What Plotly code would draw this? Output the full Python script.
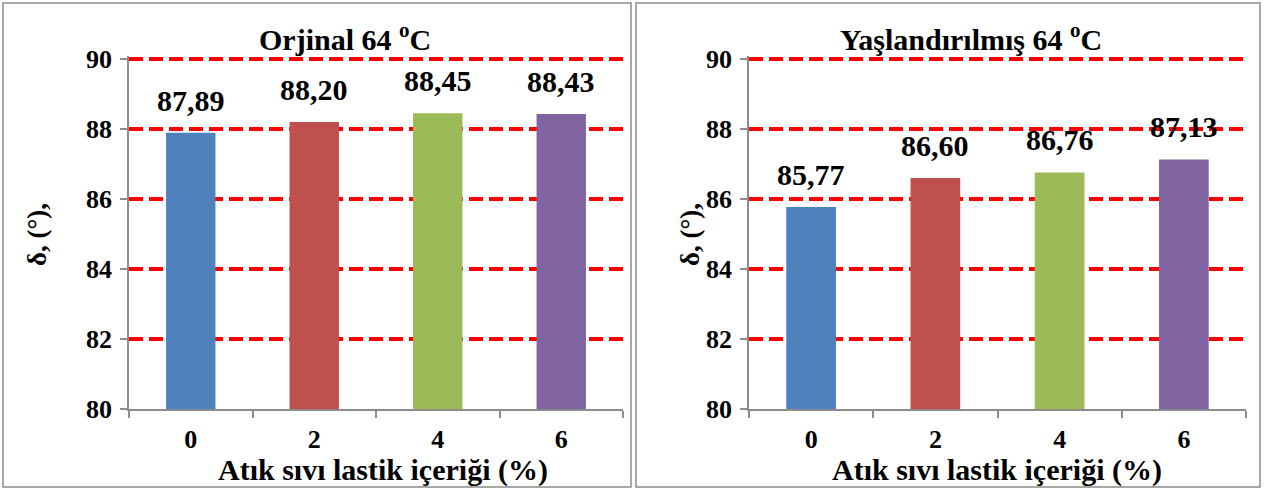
import plotly.graph_objects as go

categories = ["0", "2", "4", "6"]
orjinal_values = [87.89, 88.20, 88.45, 88.43]
yaslandirilmis_values = [85.77, 86.60, 86.76, 87.13]
bar_colors = ["#4F81BD", "#C0504D", "#9BBB59", "#8064A2"]
y_ticks = [80, 82, 84, 86, 88, 90]
titles = ["Orjinal 64 <sup>o</sup>C", "Yaşlandırılmış 64 <sup>o</sup>C"]
x_title = "Atık sıvı lastik içeriği (%)"
y_title = "δ, (°),"

W, H = 1264, 490
FONT = "Liberation Serif, Times New Roman, serif"

def px(x):
    return x / W

def py(y):
    return 1 - y / H

fig = go.Figure()

for i, vals in enumerate([orjinal_values, yaslandirilmis_values]):
    xa = "x" if i == 0 else "x2"
    ya = "y" if i == 0 else "y2"
    fig.add_trace(go.Bar(
        x=categories, y=vals, marker_color=bar_colors, marker_line_width=0,
        xaxis=xa, yaxis=ya, showlegend=False, hoverinfo="skip",
    ))
    for k, v in enumerate(vals):
        fig.add_annotation(
            x=k, y=v, xref=xa, yref=ya, text=f"{v:.2f}".replace(".", ","),
            showarrow=False, yanchor="bottom", yshift=14,
            font=dict(family=FONT, size=30, color="black", weight="bold"),
        )

axis_common = dict(
    showline=True, linecolor="#8c8c8c", linewidth=1.5, automargin=False,
    ticks="outside", tickcolor="#8c8c8c", ticklen=7, tickwidth=1.5,
    tickfont=dict(family=FONT, size=26, color="black", weight="bold"),
)
xaxis_common = dict(axis_common, type="category", tickson="boundaries",
                    range=[-0.5, 3.5], showgrid=False, fixedrange=True,
                    ticklabelstandoff=6)
# small headroom above 90 so the top gridline is drawn like the others
Y_TOP = 90.08
yaxis_common = dict(axis_common, range=[80, Y_TOP], tickvals=y_ticks,
                    showgrid=True, gridcolor="#FF0000", gridwidth=3.5,
                    griddash="14px,6px", zeroline=False, ticklen=7,
                    ticklabelstandoff=3, fixedrange=True)

unit = (409 - 59) / 10.0
ydom = [py(409), py(59 - (Y_TOP - 90) * unit)]
fig.update_layout(
    template="none",
    width=W, height=H,
    margin=dict(l=0, r=0, t=0, b=0, pad=0, autoexpand=False),
    paper_bgcolor="white", plot_bgcolor="white",
    bargap=0.6,
    xaxis=dict(xaxis_common, domain=[px(129), px(623)], anchor="y"),
    yaxis=dict(yaxis_common, domain=ydom, anchor="x"),
    xaxis2=dict(xaxis_common, domain=[px(749), px(1246)], anchor="y2"),
    yaxis2=dict(yaxis_common, domain=ydom, anchor="x2"),
)

# panel borders
for x0, x1 in [(3, 631), (636, 1260)]:
    fig.add_shape(type="rect", xref="paper", yref="paper",
                  x0=px(x0), x1=px(x1), y0=py(487), y1=py(3),
                  line=dict(color="#8c8c8c", width=1.5), layer="below")

# titles and axis titles
for j, (tx, xt, yt) in enumerate([(345, 383, 37), (971, 997, 690)]):
    fig.add_annotation(x=px(tx), y=py(37), xref="paper", yref="paper",
                       text="<b>" + titles[j] + "</b>",
                       showarrow=False, xanchor="center", yanchor="middle",
                       font=dict(family=FONT, size=30, color="black"))
    fig.add_annotation(x=px(xt), y=py(470), xref="paper", yref="paper",
                       text="<b>" + x_title + "</b>",
                       showarrow=False, xanchor="center", yanchor="middle",
                       font=dict(family=FONT, size=30, color="black"))
    fig.add_annotation(x=px(yt), y=py(235), xref="paper", yref="paper",
                       text="<b>" + y_title + "</b>", textangle=-90,
                       showarrow=False, xanchor="center", yanchor="middle",
                       font=dict(family=FONT, size=27, color="black"))

fig.write_html(
    "out.html",
    config={"displayModeBar": False},
    post_script="document.body.style.margin='0';"
                "document.documentElement.style.overflow='hidden';"
                "document.body.style.overflow='hidden';",
)
